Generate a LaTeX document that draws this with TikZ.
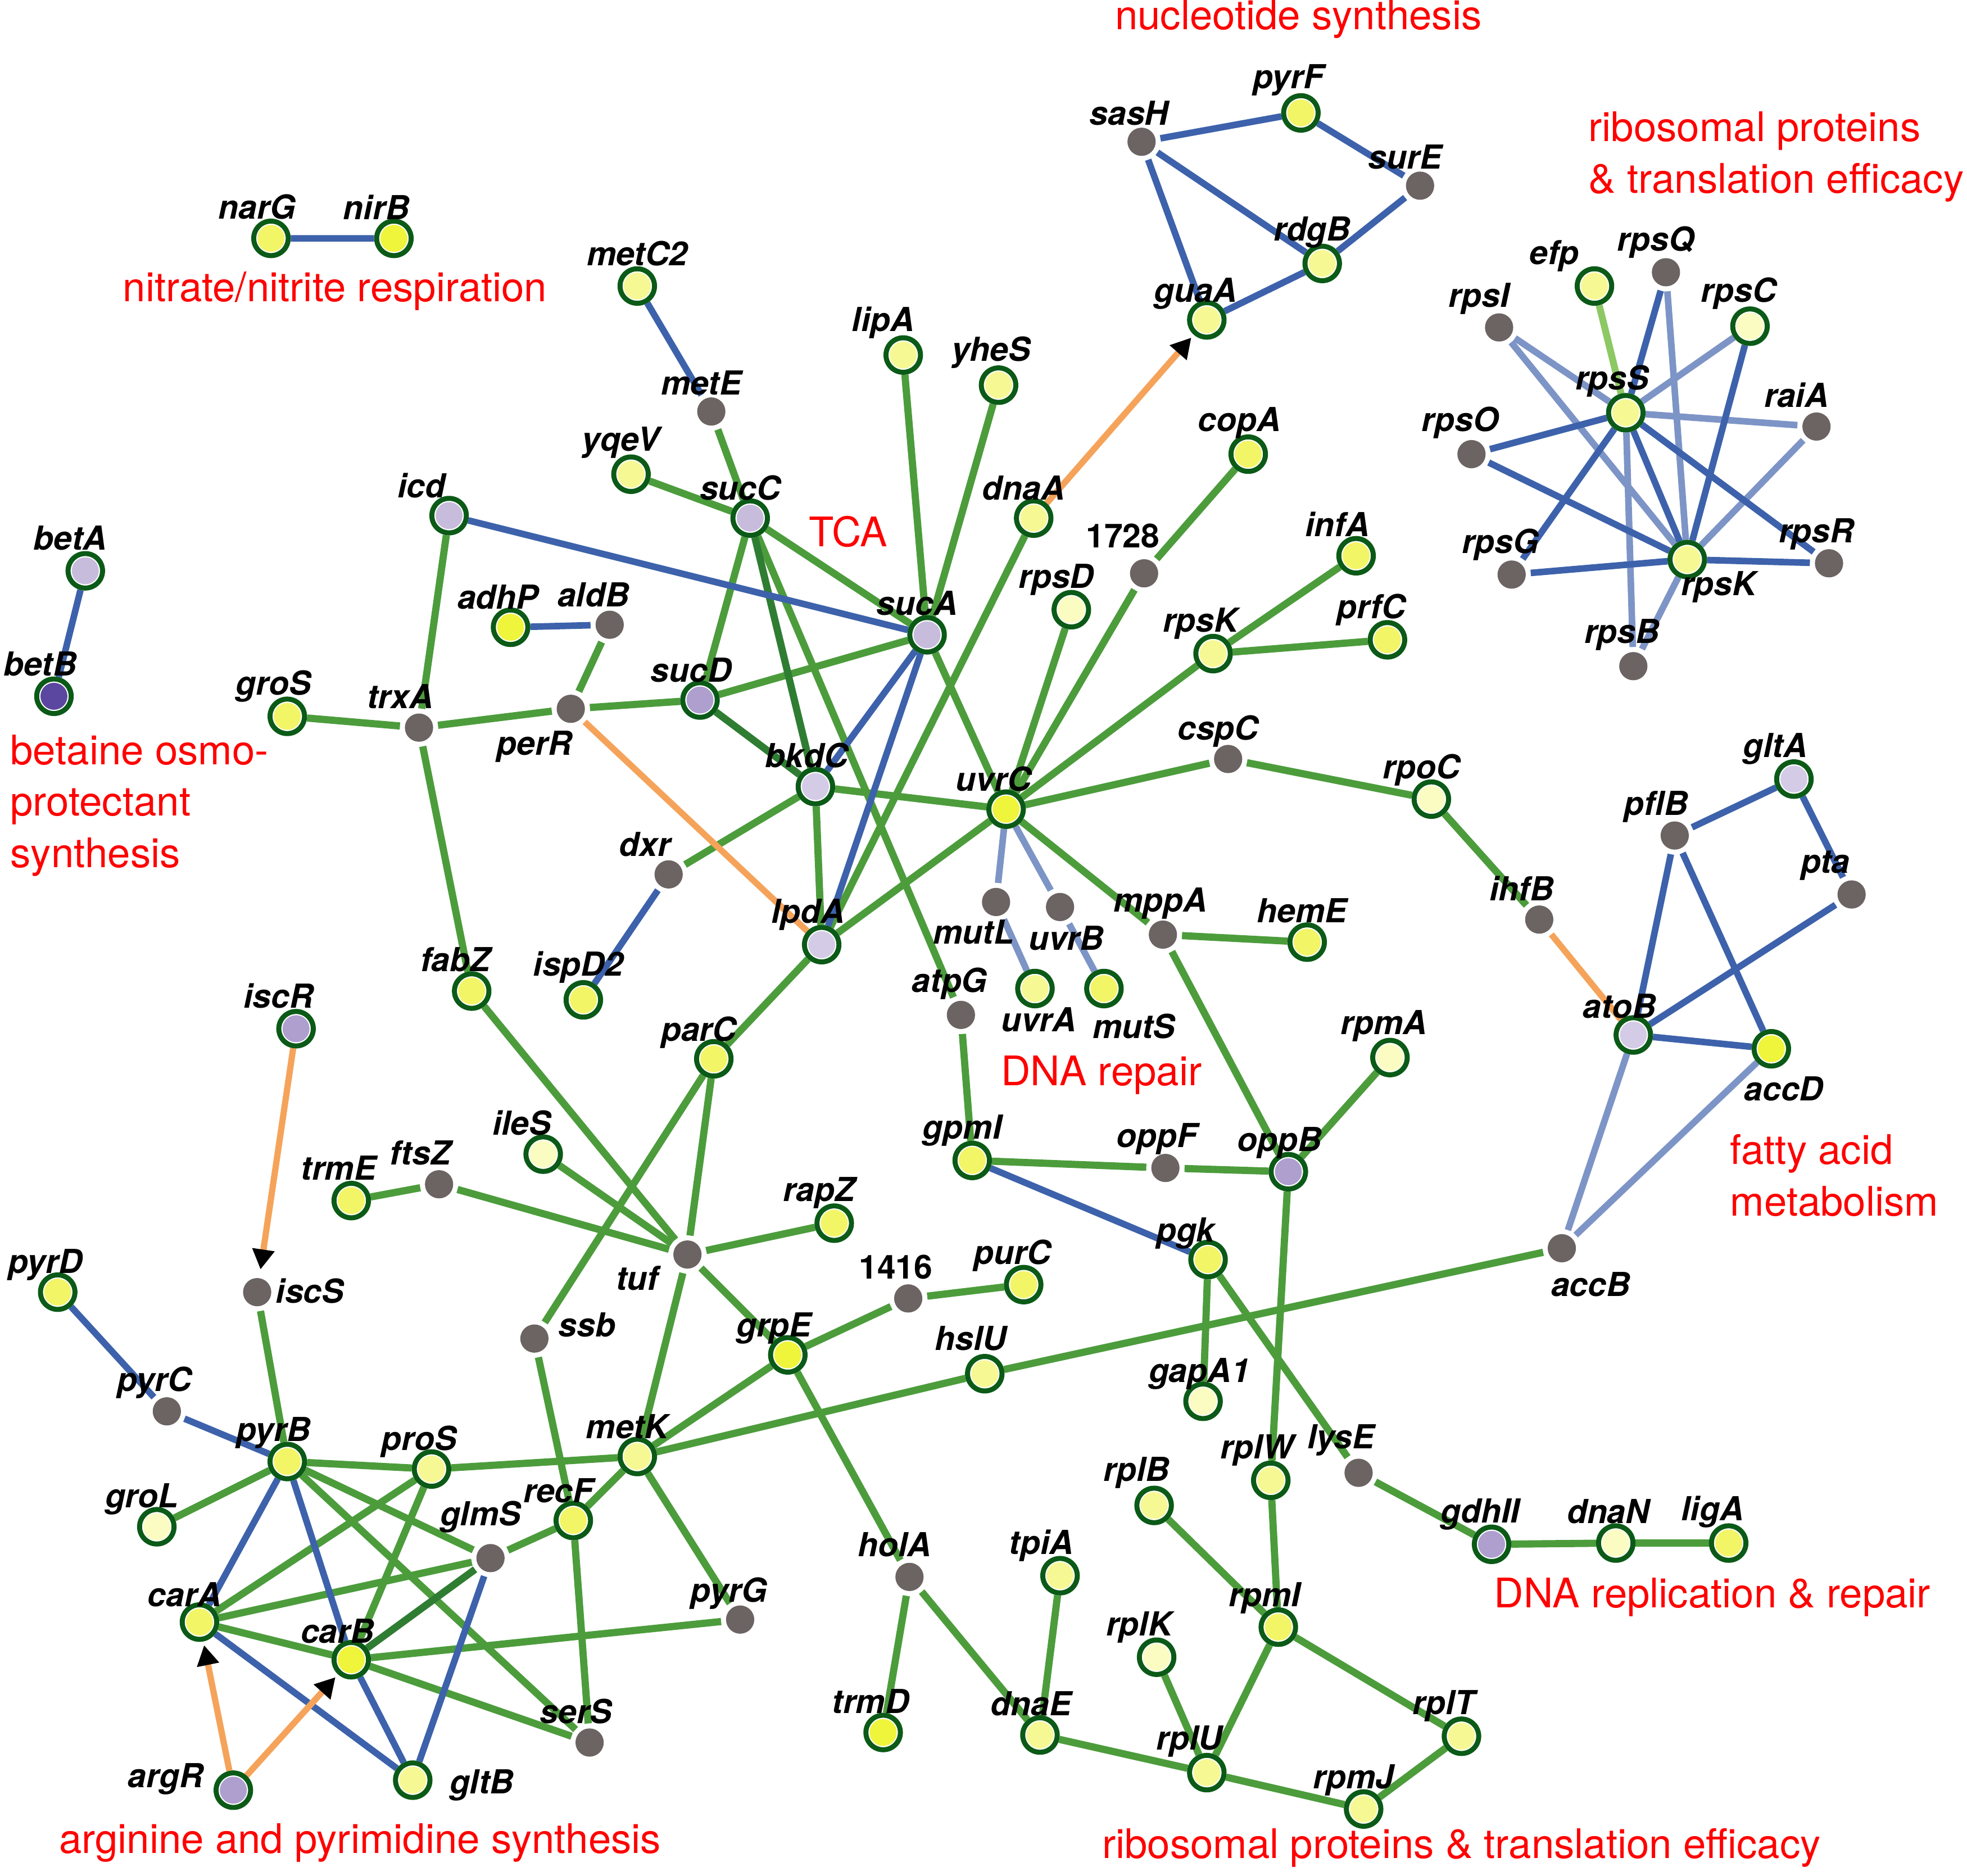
\documentclass[tikz,border=0pt]{standalone}
\usepackage{fontspec}
\setmainfont{TeX Gyre Heros}
\usetikzlibrary{arrows.meta,backgrounds}
\definecolor{ndark}{HTML}{0B5A17}
\definecolor{cdot}{HTML}{6B6462}
\definecolor{cYb}{HTML}{EEF53A}
\definecolor{cY}{HTML}{F2F566}
\definecolor{cYl}{HTML}{F6F894}
\definecolor{cYp}{HTML}{FAFCC2}
\definecolor{cLv}{HTML}{D4CCE6}
\definecolor{cLm}{HTML}{C7BCDC}
\definecolor{cLd}{HTML}{AE9FCF}
\definecolor{cBp}{HTML}{5B47A0}
\definecolor{cgreen}{HTML}{4C9C3C}
\definecolor{cgreend}{HTML}{2F7D32}
\definecolor{cgreenl}{HTML}{8CC864}
\definecolor{cblue}{HTML}{3D62AB}
\definecolor{cbluel}{HTML}{7D94C6}
\definecolor{corange}{HTML}{F5A35A}
\tikzset{
  gene/.style={circle, draw=ndark, line width=0.8mm, minimum size=5.5mm, inner sep=0pt, fill=white,
    path picture={\fill[#1] (path picture bounding box.center) circle (2.15mm);}},
  hub/.style={circle, fill=cdot, minimum size=4.5mm, inner sep=0pt, outer sep=0.8mm},
  lab/.style={font=\fontsize{15}{15}\selectfont\bfseries\itshape, inner sep=0pt},
  numlab/.style={font=\fontsize{15}{15}\selectfont\bfseries, inner sep=0pt},
  grp/.style={text=red, font=\fontsize{18.5}{23.3}\selectfont, inner sep=0pt, align=left},
  eg/.style={draw=cgreen, line width=1.15mm},
  egd/.style={draw=cgreend, line width=1.15mm},
  egl/.style={draw=cgreenl, line width=1.1mm},
  eb/.style={draw=cblue, line width=1.05mm},
  ebl/.style={draw=cbluel, line width=1.05mm},
  eo/.style={draw=corange, line width=1mm},
  arr/.style={eo, -{Triangle[length=3.2mm, width=3.4mm, color=black]}, shorten >=0.6mm}
}
\begin{document}
\begin{tikzpicture}[x=0.2mm, y=-0.2mm]
\useasboundingbox (0,0) rectangle (1568,1495);
\node[gene=cY] (narG) at (216,190) {}; \node[lab] (narG-t) at (205,165) {narG};
\node[gene=cYb] (nirB) at (314,190) {}; \node[lab] (nirB-t) at (300,165) {nirB};
\node[gene=cYl] (metC2) at (508,228) {}; \node[lab] (metC2-t) at (508,202) {metC2};
\node[hub] (metE) at (567,328) {}; \node[lab] (metE-t) at (559,305) {metE};
\node[gene=cLm] (betA) at (68,455) {}; \node[lab] (betA-t) at (56,429) {betA};
\node[gene=cBp] (betB) at (43,555) {}; \node[lab] (betB-t) at (32,529) {betB};
\node[gene=cYl] (lipA) at (720,283) {}; \node[lab] (lipA-t) at (704,257) {lipA};
\node[gene=cYl] (yheS) at (796,307) {}; \node[lab] (yheS-t) at (790,281) {yheS};
\node[gene=cYl] (yqeV) at (503,378) {}; \node[lab] (yqeV-t) at (495,353) {yqeV};
\node[gene=cLm] (sucC) at (598,413) {}; \node[lab] (sucC-t) at (590,389) {sucC};
\node[gene=cLm] (icd) at (358,411) {}; \node[lab] (icd-t) at (336,387) {icd};
\node[gene=cYl] (dnaA) at (824,413) {}; \node[lab] (dnaA-t) at (816,389) {dnaA};
\node[gene=cY] (copA) at (995,362) {}; \node[lab] (copA-t) at (988,337) {copA};
\node[hub] (n1728) at (912,457) {}; \node[numlab] (n1728-t) at (895,427) {1728};
\node[gene=cY] (infA) at (1081,443) {}; \node[lab] (infA-t) at (1066,418) {infA};
\node[gene=cYp] (rpsD) at (854,486) {}; \node[lab] (rpsD-t) at (842,462) {rpsD};
\node[gene=cLm] (sucA) at (739,506) {}; \node[lab] (sucA-t) at (731,481) {sucA};
\node[gene=cYb] (adhP) at (407,500) {}; \node[lab] (adhP-t) at (397,476) {adhP};
\node[hub] (aldB) at (486,498) {}; \node[lab] (aldB-t) at (473,474) {aldB};
\node[gene=cYl] (rpsKa) at (967,521) {}; \node[lab] (rpsKa-t) at (957,497) {rpsK};
\node[gene=cY] (prfC) at (1106,510) {}; \node[lab] (prfC-t) at (1093,486) {prfC};
\node[gene=cLd] (sucD) at (558,558) {}; \node[lab] (sucD-t) at (551,534) {sucD};
\node[gene=cY] (groS) at (229,571) {}; \node[lab] (groS-t) at (218,547) {groS};
\node[hub] (trxA) at (334,580) {}; \node[lab] (trxA-t) at (319,555) {trxA};
\node[hub] (perR) at (455,565) {}; \node[lab] (perR-t) at (426,595) {perR};
\node[gene=cLv] (bkdC) at (650,627) {}; \node[lab] (bkdC-t) at (643,602) {bkdC};
\node[gene=cYb] (uvrC) at (802,645) {}; \node[lab] (uvrC-t) at (792,621) {uvrC};
\node[hub] (cspC) at (979,605) {}; \node[lab] (cspC-t) at (971,583) {cspC};
\node[gene=cYp] (rpoC) at (1141,637) {}; \node[lab] (rpoC-t) at (1133,614) {rpoC};
\node[hub] (dxr) at (533,697) {}; \node[lab] (dxr-t) at (514,673) {dxr};
\node[gene=cLv] (lpdA) at (655,753) {}; \node[lab] (lpdA-t) at (644,729) {lpdA};
\node[hub] (mutL) at (794,719) {}; \node[lab] (mutL-t) at (776,743) {mutL};
\node[hub] (uvrB) at (845,723) {}; \node[lab] (uvrB-t) at (850,748) {uvrB};
\node[hub] (mppA) at (927,745) {}; \node[lab] (mppA-t) at (925,720) {mppA};
\node[gene=cY] (hemE) at (1042,751) {}; \node[lab] (hemE-t) at (1038,726) {hemE};
\node[hub] (ihfB) at (1227,733) {}; \node[lab] (ihfB-t) at (1213,708) {ihfB};
\node[gene=cY] (ispD2) at (465,797) {}; \node[lab] (ispD2-t) at (461,771) {ispD2};
\node[gene=cY] (fabZ) at (376,790) {}; \node[lab] (fabZ-t) at (363,765) {fabZ};
\node[gene=cYl] (uvrA) at (825,788) {}; \node[lab] (uvrA-t) at (828,813) {uvrA};
\node[gene=cY] (mutS) at (880,788) {}; \node[lab] (mutS-t) at (904,818) {mutS};
\node[hub] (atpG) at (766,809) {}; \node[lab] (atpG-t) at (757,784) {atpG};
\node[gene=cLd] (iscR) at (236,820) {}; \node[lab] (iscR-t) at (222,794) {iscR};
\node[gene=cY] (parC) at (569,844) {}; \node[lab] (parC-t) at (557,823) {parC};
\node[gene=cYp] (rpmA) at (1108,843) {}; \node[lab] (rpmA-t) at (1103,818) {rpmA};
\node[gene=cLv] (atoB) at (1302,825) {}; \node[lab] (atoB-t) at (1291,802) {atoB};
\node[gene=cYb] (accD) at (1412,836) {}; \node[lab] (accD-t) at (1422,868) {accD};
\node[gene=cLv] (gltA) at (1430,621) {}; \node[lab] (gltA-t) at (1415,597) {gltA};
\node[hub] (pflB) at (1335,666) {}; \node[lab] (pflB-t) at (1320,643) {pflB};
\node[hub] (pta) at (1476,713) {}; \node[lab] (pta-t) at (1455,690) {pta};
\node[hub] (accB) at (1245,995) {}; \node[lab] (accB-t) at (1268,1024) {accB};
\node[gene=cY] (gpmI) at (775,925) {}; \node[lab] (gpmI-t) at (767,901) {gpmI};
\node[hub] (oppF) at (929,931) {}; \node[lab] (oppF-t) at (922,908) {oppF};
\node[gene=cLd] (oppB) at (1027,934) {}; \node[lab] (oppB-t) at (1020,911) {oppB};
\node[gene=cYp] (ileS) at (433,920) {}; \node[lab] (ileS-t) at (416,895) {ileS};
\node[hub] (ftsZ) at (350,944) {}; \node[lab] (ftsZ-t) at (335,919) {ftsZ};
\node[gene=cY] (trmE) at (280,957) {}; \node[lab] (trmE-t) at (270,931) {trmE};
\node[gene=cY] (rapZ) at (665,975) {}; \node[lab] (rapZ-t) at (653,951) {rapZ};
\node[hub] (tuf) at (548,1000) {}; \node[lab] (tuf-t) at (508,1019) {tuf};
\node[gene=cY] (pgk) at (963,1004) {}; \node[lab] (pgk-t) at (945,983) {pgk};
\node[hub] (n1416) at (724,1035) {}; \node[numlab] (n1416-t) at (714,1010) {1416};
\node[gene=cY] (purC) at (816,1024) {}; \node[lab] (purC-t) at (807,1001) {purC};
\node[gene=cY] (pyrD) at (46,1030) {}; \node[lab] (pyrD-t) at (36,1008) {pyrD};
\node[hub] (iscS) at (205,1030) {}; \node[lab] (iscS-t) at (247,1029) {iscS};
\node[hub] (ssb) at (426,1067) {}; \node[lab] (ssb-t) at (468,1056) {ssb};
\node[gene=cYb] (grpE) at (628,1080) {}; \node[lab] (grpE-t) at (617,1059) {grpE};
\node[gene=cYl] (hslU) at (785,1095) {}; \node[lab] (hslU-t) at (774,1067) {hslU};
\node[gene=cYp] (gapA1) at (959,1117) {}; \node[lab] (gapA1-t) at (956,1095) {gapA1};
\node[hub] (pyrC) at (133,1125) {}; \node[lab] (pyrC-t) at (123,1102) {pyrC};
\node[gene=cY] (pyrB) at (229,1165) {}; \node[lab] (pyrB-t) at (218,1142) {pyrB};
\node[gene=cYl] (proS) at (344,1171) {}; \node[lab] (proS-t) at (334,1149) {proS};
\node[gene=cYl] (metK) at (508,1161) {}; \node[lab] (metK-t) at (500,1137) {metK};
\node[gene=cYl] (rplW) at (1013,1180) {}; \node[lab] (rplW-t) at (1002,1156) {rplW};
\node[hub] (lysE) at (1083,1174) {}; \node[lab] (lysE-t) at (1069,1148) {lysE};
\node[gene=cYl] (rplB) at (920,1200) {}; \node[lab] (rplB-t) at (906,1174) {rplB};
\node[gene=cYp] (groL) at (125,1217) {}; \node[lab] (groL-t) at (113,1195) {groL};
\node[hub] (glmS) at (391,1242) {}; \node[lab] (glmS-t) at (383,1209) {glmS};
\node[gene=cY] (recF) at (457,1212) {}; \node[lab] (recF-t) at (445,1188) {recF};
\node[gene=cLd] (gdhII) at (1189,1231) {}; \node[lab] (gdhII-t) at (1180,1207) {gdhII};
\node[gene=cYp] (dnaN) at (1288,1230) {}; \node[lab] (dnaN-t) at (1282,1205) {dnaN};
\node[gene=cY] (ligA) at (1378,1230) {}; \node[lab] (ligA-t) at (1365,1205) {ligA};
\node[hub] (holA) at (725,1257) {}; \node[lab] (holA-t) at (713,1231) {holA};
\node[gene=cYl] (tpiA) at (845,1256) {}; \node[lab] (tpiA-t) at (830,1232) {tpiA};
\node[gene=cY] (carA) at (159,1293) {}; \node[lab] (carA-t) at (147,1271) {carA};
\node[hub] (pyrG) at (590,1291) {}; \node[lab] (pyrG-t) at (581,1270) {pyrG};
\node[gene=cYb] (carB) at (280,1323) {}; \node[lab] (carB-t) at (269,1300) {carB};
\node[gene=cY] (rpmI) at (1019,1297) {}; \node[lab] (rpmI-t) at (1008,1274) {rpmI};
\node[gene=cYp] (rplK) at (922,1321) {}; \node[lab] (rplK-t) at (908,1297) {rplK};
\node[hub] (serS) at (470,1389) {}; \node[lab] (serS-t) at (459,1364) {serS};
\node[gene=cYb] (trmD) at (704,1381) {}; \node[lab] (trmD-t) at (694,1356) {trmD};
\node[gene=cYl] (dnaE) at (829,1383) {}; \node[lab] (dnaE-t) at (822,1358) {dnaE};
\node[gene=cYl] (rplT) at (1165,1384) {}; \node[lab] (rplT-t) at (1151,1360) {rplT};
\node[gene=cYl] (rplU) at (962,1413) {}; \node[lab] (rplU-t) at (948,1388) {rplU};
\node[gene=cYl] (rpmJ) at (1087,1442) {}; \node[lab] (rpmJ-t) at (1079,1419) {rpmJ};
\node[gene=cLd] (argR) at (186,1427) {}; \node[lab] (argR-t) at (132,1418) {argR};
\node[gene=cYl] (gltB) at (329,1419) {}; \node[lab] (gltB-t) at (384,1423) {gltB};
\node[hub] (sasH) at (910,113) {}; \node[lab] (sasH-t) at (900,90) {sasH};
\node[gene=cY] (pyrF) at (1037,90) {}; \node[lab] (pyrF-t) at (1027,64) {pyrF};
\node[hub] (surE) at (1132,148) {}; \node[lab] (surE-t) at (1120,125) {surE};
\node[gene=cYl] (rdgB) at (1054,210) {}; \node[lab] (rdgB-t) at (1046,185) {rdgB};
\node[gene=cYl] (guaA) at (962,255) {}; \node[lab] (guaA-t) at (953,234) {guaA};
\node[gene=cYl] (efp) at (1271,228) {}; \node[lab] (efp-t) at (1239,204) {efp};
\node[hub] (rpsQ) at (1328,217) {}; \node[lab] (rpsQ-t) at (1320,193) {rpsQ};
\node[hub] (rpsI) at (1195,261) {}; \node[lab] (rpsI-t) at (1179,238) {rpsI};
\node[gene=cYp] (rpsC) at (1395,260) {}; \node[lab] (rpsC-t) at (1386,234) {rpsC};
\node[gene=cYl] (rpsS) at (1296,329) {}; \node[lab] (rpsS-t) at (1285,304) {rpsS};
\node[hub] (raiA) at (1448,340) {}; \node[lab] (raiA-t) at (1432,315) {raiA};
\node[hub] (rpsO) at (1173,362) {}; \node[lab] (rpsO-t) at (1164,337) {rpsO};
\node[hub] (rpsR) at (1458,449) {}; \node[lab] (rpsR-t) at (1448,426) {rpsR};
\node[gene=cYl] (rpsKb) at (1345,446) {}; \node[lab] (rpsKb-t) at (1370,468) {rpsK};
\node[hub] (rpsG) at (1205,458) {}; \node[lab] (rpsG-t) at (1196,434) {rpsG};
\node[hub] (rpsB) at (1302,531) {}; \node[lab] (rpsB-t) at (1293,506) {rpsB};
\node[grp] (gNuc) at (1035,15) {nucleotide synthesis};
\node[grp, anchor=west] (gRib1) at (1266,125) {ribosomal proteins\\\& translation efficacy};
\node[grp] (gNit) at (267,232) {nitrate/nitrite respiration};
\node[grp] (gTca) at (676,424) {TCA};
\node[grp, anchor=west] (gBet) at (8,642) {betaine osmo-\\protectant\\synthesis};
\node[grp] (gDna) at (878,857) {DNA repair};
\node[grp, anchor=west] (gFat) at (1379,937) {fatty acid\\metabolism};
\node[grp] (gRep) at (1365,1273) {DNA replication \& repair};
\node[grp] (gArg) at (287,1469) {arginine and pyrimidine synthesis};
\node[grp] (gRib2) at (1165,1473) {ribosomal proteins \& translation efficacy};
\begin{pgfonlayer}{background}
\draw[eg] (metE) -- (sucC) (yqeV) -- (sucC) (sucC) -- (sucA) (sucC) -- (sucD) (sucC) -- (atpG)
  (lipA) -- (sucA) (yheS) -- (sucA) (sucA) -- (sucD) (sucA) -- (uvrC) (dnaA) -- (lpdA)
  (rpsD) -- (uvrC) (sucD) -- (perR) (bkdC) -- (uvrC) (bkdC) -- (lpdA) (bkdC) -- (dxr)
  (lpdA) -- (uvrC) (lpdA) -- (parC);
\draw[eg] (icd) -- (trxA) (aldB) -- (perR) (groS) -- (trxA) (trxA) -- (perR) (trxA) -- (fabZ) (fabZ) -- (tuf);
\draw[eg] (copA) -- (n1728) (n1728) -- (uvrC) (rpsKa) -- (infA) (rpsKa) -- (prfC) (rpsKa) -- (uvrC)
  (uvrC) -- (cspC) (cspC) -- (rpoC) (rpoC) -- (ihfB) (uvrC) -- (mppA) (mppA) -- (hemE) (mppA) -- (oppB);
\draw[eg] (parC) -- (tuf) (parC) -- (ssb) (ileS) -- (tuf) (ftsZ) -- (tuf) (trmE) -- (ftsZ)
  (tuf) -- (rapZ) (tuf) -- (grpE) (tuf) -- (metK) (ssb) -- (recF) (grpE) -- (metK)
  (grpE) -- (n1416) (grpE) -- (holA) (metK) -- (hslU) (hslU) -- (accB) (n1416) -- (purC);
\draw[eg] (atpG) -- (gpmI) (gpmI) -- (oppF) (oppF) -- (oppB) (oppB) -- (rpmA) (oppB) -- (rplW)
  (pgk) -- (gapA1) (pgk) -- (lysE) (lysE) -- (gdhII) (gdhII) -- (dnaN) (dnaN) -- (ligA);
\draw[eg] (iscS) -- (pyrB) (pyrB) -- (proS) (proS) -- (metK) (pyrB) -- (groL) (pyrB) -- (glmS)
  (pyrB) -- (serS) (proS) -- (carA) (proS) -- (carB) (carA) -- (glmS) (carA) -- (carB)
  (carB) -- (pyrG) (carB) -- (serS) (glmS) -- (recF) (recF) -- (metK) (recF) -- (serS) (metK) -- (pyrG);
\draw[eg] (holA) -- (trmD) (holA) -- (dnaE) (tpiA) -- (dnaE) (dnaE) -- (rplU) (rplB) -- (rpmI)
  (rplW) -- (rpmI) (rpmI) -- (rplU) (rpmI) -- (rplT) (rplK) -- (rplU) (rplU) -- (rpmJ) (rpmJ) -- (rplT);
\draw[egd] (sucC) -- (bkdC) (sucD) -- (bkdC) (carB) -- (glmS);
\draw[egl] (efp) -- (rpsS);
\draw[eb] (narG) -- (nirB) (betA) -- (betB) (metC2) -- (metE) (adhP) -- (aldB)
  (icd) -- (sucA) (sucA) -- (bkdC) (sucA) -- (lpdA) (dxr) -- (ispD2);
\draw[eb] (sasH) -- (pyrF) (pyrF) -- (surE) (sasH) -- (rdgB) (sasH) -- (guaA) (surE) -- (rdgB) (rdgB) -- (guaA);
\draw[eb] (gltA) -- (pflB) (gltA) -- (pta) (pflB) -- (atoB) (pflB) -- (accD) (pta) -- (atoB)
  (atoB) -- (accD) (gpmI) -- (pgk);
\draw[eb] (pyrD) -- (pyrC) (pyrC) -- (pyrB) (pyrB) -- (carA) (pyrB) -- (carB) (carA) -- (gltB)
  (carB) -- (gltB) (glmS) -- (gltB);
\draw[ebl] (uvrC) -- (mutL) (uvrC) -- (uvrB) (mutL) -- (uvrA) (uvrB) -- (mutS) (accB) -- (atoB) (accB) -- (accD);
\draw[ebl] (rpsQ) -- (rpsKb) (rpsI) -- (rpsS) (rpsI) -- (rpsKb) (rpsC) -- (rpsS) (rpsS) -- (raiA)
  (rpsS) -- (rpsB) (raiA) -- (rpsKb) (rpsB) -- (rpsKb);
\draw[eb] (rpsQ) -- (rpsS) (rpsC) -- (rpsKb) (rpsS) -- (rpsO) (rpsO) -- (rpsKb) (rpsS) -- (rpsG)
  (rpsS) -- (rpsKb) (rpsS) -- (rpsR) (rpsG) -- (rpsKb) (rpsR) -- (rpsKb);
\draw[eo] (perR) -- (lpdA) (ihfB) -- (atoB);
\draw[arr] (dnaA) -- (guaA);
\draw[arr] (iscR) -- (iscS);
\draw[arr] (argR) -- (carA);
\draw[arr] (argR) -- (carB);
\end{pgfonlayer}
\end{tikzpicture}
\end{document}
